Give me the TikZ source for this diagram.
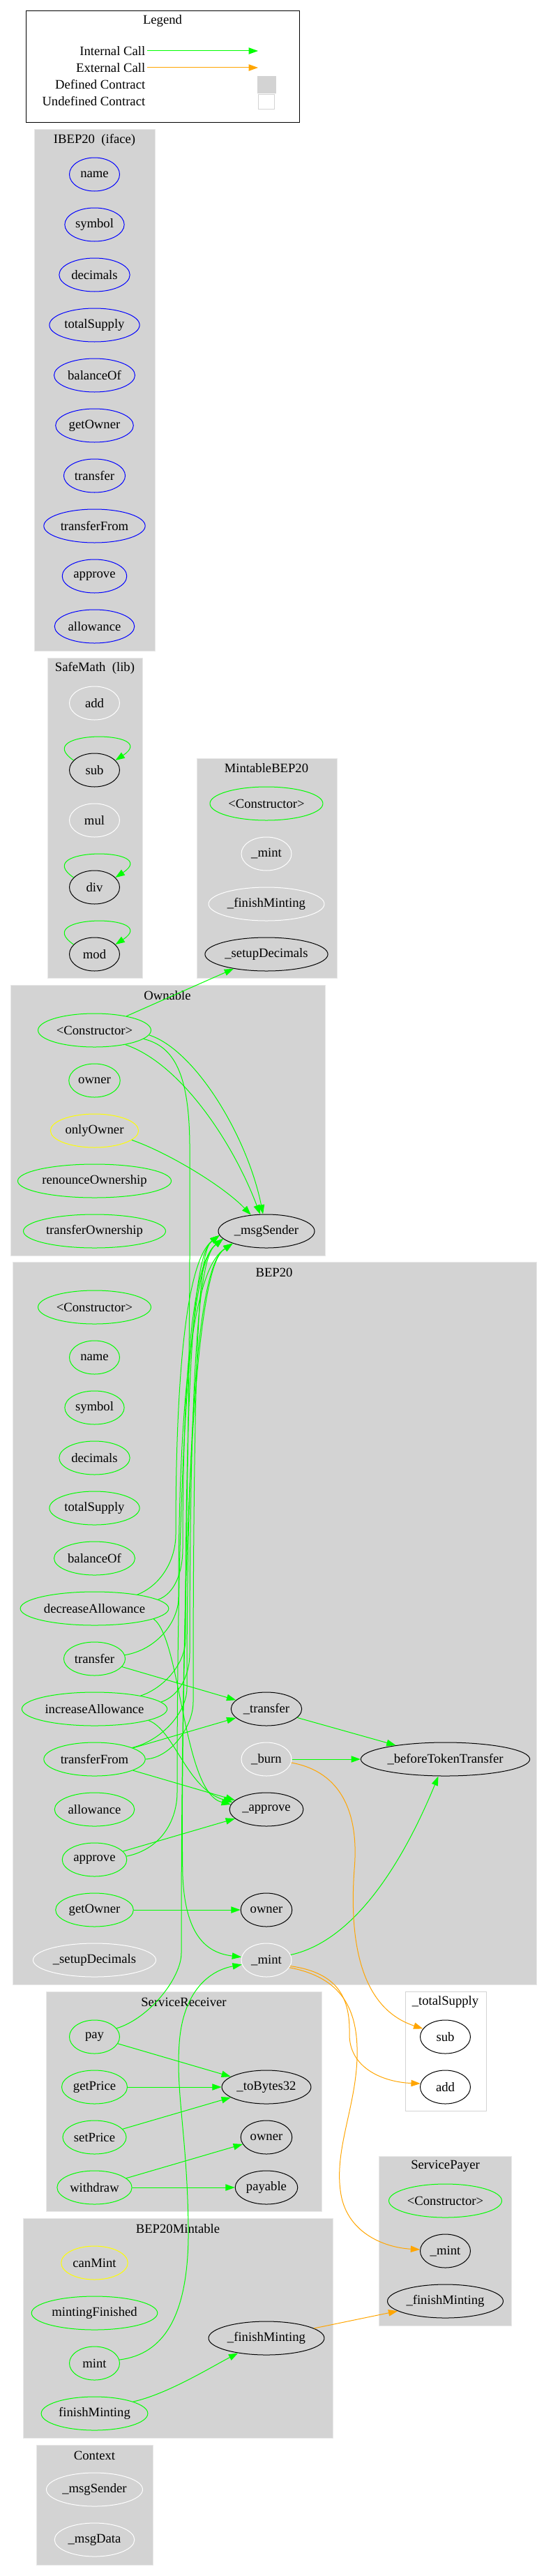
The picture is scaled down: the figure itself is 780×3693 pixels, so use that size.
\documentclass[tikz,border=0pt]{standalone}
\usepackage{fontspec}
\setmainfont{Liberation Serif}
\usetikzlibrary{arrows.meta,shapes.geometric}

\definecolor{callgreen}{RGB}{0,255,0}
\definecolor{extorange}{RGB}{255,165,0}
\definecolor{fnblue}{RGB}{0,0,255}
\definecolor{fnyellow}{RGB}{255,255,0}
\definecolor{clustergray}{RGB}{211,211,211}
\definecolor{clusterline}{RGB}{232,232,232}

\tikzset{
  fn/.style={ellipse,draw,line width=0.75pt,font=\fontsize{14}{16}\selectfont,
    minimum width=54pt,minimum height=36pt,inner xsep=2pt,inner ysep=2pt},
  pub/.style={fn,draw=callgreen},
  iface/.style={fn,draw=fnblue},
  modif/.style={fn,draw=fnyellow},
  internal/.style={fn,draw=black},
  unused/.style={fn,draw=white},
  cluster/.style={fill=clustergray,draw=clusterline,line width=0.75pt},
  title/.style={font=\fontsize{14}{16}\selectfont,inner sep=0pt},
  call/.style={draw=callgreen,line width=0.75pt,-{Triangle[length=10pt,width=7pt]}},
  ext/.style={call,draw=extorange},
}

\begin{document}
\begin{tikzpicture}[x=0.75pt,y=-0.75pt]
  \useasboundingbox (0,0) rectangle (780,3693);

  % legend
  \draw[line width=0.75pt] (37.5,15.5) rectangle (429,176);
  \node[title] (legTitle) at (233,30) {Legend};
  \node[title,anchor=east,inner xsep=1.5pt] (legInt) at (210.5,73) {Internal Call};
  \node[title,anchor=east,inner xsep=1.5pt] (legExt) at (210.5,97) {External Call};
  \node[title,anchor=east,inner xsep=1.5pt] (legDef) at (210.5,121) {Defined Contract};
  \node[title,anchor=east,inner xsep=1.5pt] (legUndef) at (210.5,145) {Undefined Contract};
  \coordinate (legIntEnd) at (370,73);
  \coordinate (legExtEnd) at (370,97);
  \draw[call] (legInt) -- (legIntEnd);
  \draw[ext] (legExt) -- (legExtEnd);
  \node[fill=clustergray,draw=clustergray,minimum width=19.5pt,minimum height=18pt,inner sep=0pt] (legDefBox) at (382,121) {};
  \node[fill=white,draw=clustergray,minimum width=16.9pt,minimum height=16pt,inner sep=0pt] (legUndefBox) at (382,146) {};

  % clusters
  \draw[cluster] (49,186) rectangle (222,933);
  \node[title] (tIBEP) at (135.5,201) {IBEP20\ \ (iface)};
  \draw[cluster] (68.5,943) rectangle (204.5,1402);
  \node[title] (tSafeMath) at (136,958) {SafeMath\ \ (lib)};
  \draw[cluster] (282,1087) rectangle (483,1402);
  \node[title] (tMintable) at (382,1101.5) {MintableBEP20};
  \draw[cluster] (15.5,1412.5) rectangle (466,1800.5);
  \node[title] (tOwnable) at (240,1427.5) {Ownable};
  \draw[cluster] (18.5,1809) rectangle (769,2845);
  \node[title] (tBEP) at (393,1824) {BEP20};
  \draw[cluster] (66.5,2855) rectangle (461,3170);
  \node[title] (tReceiver) at (263.5,2870) {ServiceReceiver};
  \draw[fill=white,draw=clustergray,line width=0.75pt] (581,2855) rectangle (697.5,3026);
  \node[title] (tSupply) at (638.5,2870) {\_totalSupply};
  \draw[cluster] (543.5,3091) rectangle (733.5,3334);
  \node[title] (tPayer) at (638.5,3105) {ServicePayer};
  \draw[cluster] (33,3180) rectangle (477.5,3495);
  \node[title] (tBEPMint) at (255,3195) {BEP20Mintable};
  \draw[cluster] (52.5,3505) rectangle (219,3677);
  \node[title] (tContext) at (135.5,3520) {Context};

  % IBEP20
  \foreach \n/\t/\y in {iName/name/250,iSymbol/symbol/322,iDecimals/decimals/394,
      iTotalSupply/totalSupply/466,iBalanceOf/balanceOf/538,iGetOwner/getOwner/610,
      iTransfer/transfer/682,iTransferFrom/transferFrom/754,iApprove/approve/826,
      iAllowance/allowance/898}
    \node[iface] (\n) at (135.5,\y) {\t};

  % SafeMath
  \node[unused] (smAdd) at (135.5,1008) {add};
  \node[internal] (smSub) at (135.5,1104) {sub};
  \node[unused] (smMul) at (135.5,1176) {mul};
  \node[internal] (smDiv) at (135.5,1272) {div};
  \node[internal] (smMod) at (135.5,1368) {mod};

  % MintableBEP20
  \node[pub] (mbCtor) at (382,1152) {<Constructor>};
  \node[unused] (mbMint) at (382,1224) {\_mint};
  \node[unused] (mbFinish) at (382,1296) {\_finishMinting};
  \node[internal] (mbSetup) at (382,1368) {\_setupDecimals};

  % Ownable
  \node[pub] (oCtor) at (135.5,1477) {<Constructor>};
  \node[pub] (oOwner) at (135.5,1549) {owner};
  \node[modif] (oOnlyOwner) at (135.5,1621) {onlyOwner};
  \node[pub] (oRenounce) at (135.5,1693) {renounceOwnership};
  \node[pub] (oTransferOwn) at (135.5,1765) {transferOwnership};
  \node[internal] (oMsgSender) at (382,1765) {\_msgSender};

  % BEP20
  \foreach \n/\t/\y in {bCtor/<Constructor>/1874,bName/name/1946,bSymbol/symbol/2018,
      bDecimals/decimals/2090,bTotalSupply/totalSupply/2162,bBalanceOf/balanceOf/2234,
      bDecAllow/decreaseAllowance/2306,bTransfer/transfer/2378,
      bIncAllow/increaseAllowance/2450,bTransferFrom/transferFrom/2522,
      bAllowance/allowance/2594,bApprove/approve/2666,bGetOwner/getOwner/2738}
    \node[pub] (\n) at (135.5,\y) {\t};
  \node[unused] (bSetup) at (135.5,2810) {\_setupDecimals};
  \node[internal] (bXTransfer) at (382,2450) {\_transfer};
  \node[unused] (bBurn) at (382,2522) {\_burn};
  \node[internal] (bXApprove) at (382,2594) {\_approve};
  \node[internal] (bOwner) at (382,2738) {owner};
  \node[unused] (bMint) at (382,2810) {\_mint};
  \node[internal] (bBefore) at (638.5,2522) {\_beforeTokenTransfer};

  % ServiceReceiver
  \node[pub] (srPay) at (135.5,2920) {pay};
  \node[pub] (srGetPrice) at (135.5,2992) {getPrice};
  \node[pub] (srSetPrice) at (135.5,3064) {setPrice};
  \node[pub] (srWithdraw) at (135.5,3136) {withdraw};
  \node[internal] (srToBytes) at (382,2992) {\_toBytes32};
  \node[internal] (srOwner) at (382,3064) {owner};
  \node[internal] (srPayable) at (382,3136) {payable};

  % _totalSupply
  \node[internal] (tsSub) at (638.5,2920) {sub};
  \node[internal] (tsAdd) at (638.5,2992) {add};

  % ServicePayer
  \node[pub] (spCtor) at (638.5,3155) {<Constructor>};
  \node[internal] (spMint) at (638.5,3227) {\_mint};
  \node[internal] (spFinish) at (638.5,3299) {\_finishMinting};

  % BEP20Mintable
  \node[modif] (bmCanMint) at (135.5,3244) {canMint};
  \node[pub] (bmMintingFinished) at (135.5,3316) {mintingFinished};
  \node[pub] (bmMint) at (135.5,3388) {mint};
  \node[pub] (bmFinish) at (135.5,3460) {finishMinting};
  \node[internal] (bmXFinish) at (382,3352) {\_finishMinting};

  % Context
  \node[unused] (cMsgSender) at (135.5,3569) {\_msgSender};
  \node[unused] (cMsgData) at (135.5,3641) {\_msgData};

  % SafeMath self calls
  \foreach \n in {smSub,smDiv,smMod}
    \draw[call] (\n.155) .. controls +(-64,-44) and +(67,-44) .. (\n.25);

  % Ownable calls
  \draw[call] (oCtor) -- (mbSetup);
  \draw[call] (oCtor.-5) .. controls (280,1505) and (355,1630) .. (oMsgSender);
  \draw[call] (oCtor.-25) .. controls (260,1525) and (335,1640) .. (oMsgSender);
  \draw[call] (oCtor.-10) .. controls (250,1500) and (271,1540) .. (272,1640)
    .. controls (274,2100) and (258,2500) .. (262,2690)
    .. controls (266,2780) and (300,2800) .. (bMint);
  \draw[call] (oOnlyOwner.-14) .. controls (240,1652) and (320,1700) .. (oMsgSender);

  % calls up to _msgSender
  \draw[call] (bDecAllow.18) .. controls (232,2272) and (252,2235) .. (252,2200)
    .. controls (252,1835) and (290,1790) .. (oMsgSender.185);
  \draw[call] (bDecAllow.8) .. controls (250,2285) and (262,2255) .. (262,2220)
    .. controls (262,1835) and (296,1795) .. (oMsgSender.190);
  \draw[call] (bTransfer.7) .. controls (225,2365) and (256,2325) .. (256,2290)
    .. controls (256,1835) and (308,1800) .. (oMsgSender.200);
  \draw[call] (bIncAllow.16) .. controls (235,2420) and (266,2385) .. (266,2350)
    .. controls (266,1835) and (290,1790) .. (oMsgSender.185);
  \draw[call] (bIncAllow.6) .. controls (255,2432) and (272,2405) .. (272,2370)
    .. controls (272,1835) and (296,1795) .. (oMsgSender.190);
  \draw[call] (bTransferFrom.17) .. controls (232,2495) and (268,2455) .. (268,2420)
    .. controls (268,1835) and (308,1800) .. (oMsgSender.200);
  \draw[call] (bTransferFrom.0) .. controls (245,2520) and (277,2475) .. (277,2440)
    .. controls (277,1835) and (290,1790) .. (oMsgSender.185);
  \draw[call] (bApprove.6) .. controls (235,2650) and (254,2605) .. (254,2570)
    .. controls (254,1835) and (296,1795) .. (oMsgSender.190);
  \draw[call] (srPay.21) .. controls (215,2893) and (260,2835) .. (260,2800)
    .. controls (260,1835) and (308,1800) .. (oMsgSender.200);

  % BEP20 calls
  \draw[call] (bTransfer) -- (bXTransfer);
  \draw[call] (bTransferFrom) -- (bXTransfer);
  \draw[call] (bTransferFrom) -- (bXApprove);
  \draw[call] (bApprove) -- (bXApprove);
  \draw[call] (bDecAllow.-10) .. controls (260,2350) and (262,2570) .. (bXApprove.172);
  \draw[call] (bIncAllow.-12) .. controls (250,2480) and (268,2565) .. (bXApprove.168);
  \draw[call] (bGetOwner) -- (bOwner);
  \draw[call] (bXTransfer) -- (bBefore);
  \draw[call] (bBurn) -- (bBefore);
  \draw[call] (bMint) .. controls (520,2780) and (590,2640) .. (bBefore);
  \draw[ext] (bBurn.-8) .. controls (490,2540) and (515,2600) .. (508,2680)
    .. controls (500,2790) and (520,2880) .. (tsSub.160);
  \draw[ext] (bMint.-14) .. controls (485,2828) and (502,2865) .. (501,2915)
    .. controls (500,2965) and (550,2985) .. (tsAdd.172);
  \draw[ext] (bMint.-18) .. controls (490,2835) and (514,2880) .. (512,2950)
    .. controls (510,3020) and (480,3080) .. (488,3140)
    .. controls (495,3200) and (550,3222) .. (spMint);

  % ServiceReceiver calls
  \draw[call] (srPay) -- (srToBytes);
  \draw[call] (srGetPrice) -- (srToBytes);
  \draw[call] (srSetPrice) -- (srToBytes);
  \draw[call] (srWithdraw) -- (srOwner);
  \draw[call] (srWithdraw) -- (srPayable);

  % BEP20Mintable calls
  \draw[call] (bmMint.8) .. controls (235,3375) and (272,3320) .. (270,3190)
    .. controls (268,3060) and (252,3000) .. (257,2930)
    .. controls (262,2855) and (300,2825) .. (bMint);
  \draw[call] (bmFinish.17) .. controls (240,3432) and (300,3395) .. (bmXFinish);
  \draw[ext] (bmXFinish) -- (spFinish);
\end{tikzpicture}
\end{document}
